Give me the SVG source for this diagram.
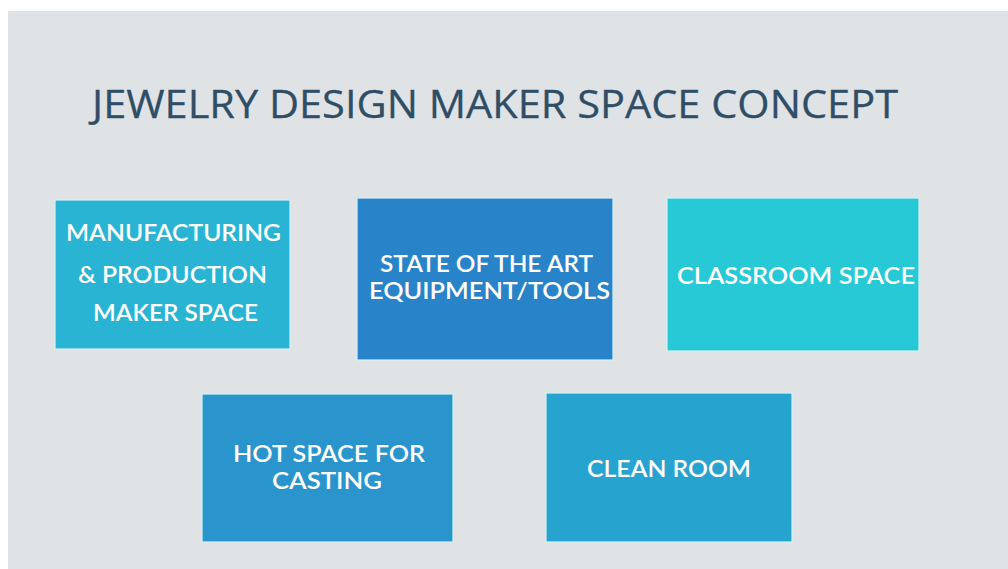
<svg xmlns="http://www.w3.org/2000/svg" width="1008" height="569" viewBox="0 0 1008 569">
<style>
.bg{fill:#dfe3e6}
.box{stroke:#d6f1f6;stroke-width:1.2}
.lbl{font-family:Lato,"Noto Sans",sans-serif;font-weight:600;font-size:23px;fill:#ffffff;text-anchor:middle}
.title{font-family:"Open Sans","Noto Sans",sans-serif;font-size:39px;fill:#2f4e66;stroke:#2f4e66;stroke-width:0.3}
</style>
<rect x="0" y="0" width="1008" height="569" fill="#ffffff"/>
<rect class="bg" x="8" y="11" width="1000" height="558"/>
<text class="title" x="92" y="118" textLength="806" lengthAdjust="spacingAndGlyphs">JEWELRY DESIGN MAKER SPACE CONCEPT</text>
<g id="node-manufacturing">
<rect class="box" x="55" y="200" width="235" height="149" fill="#2ab4d4"/>
<text class="lbl" x="173.5" y="241" textLength="215" lengthAdjust="spacingAndGlyphs">MANUFACTURING</text>
<text class="lbl" x="172.5" y="283" textLength="189" lengthAdjust="spacingAndGlyphs">&amp; PRODUCTION</text>
<text class="lbl" x="175.5" y="321" textLength="165" lengthAdjust="spacingAndGlyphs">MAKER SPACE</text>
</g>
<g id="node-equipment">
<rect class="box" x="357" y="198" width="256" height="162" fill="#2983c8"/>
<text class="lbl" x="486.5" y="272" textLength="213" lengthAdjust="spacingAndGlyphs">STATE OF THE ART</text>
<text class="lbl" x="489.5" y="299" textLength="241" lengthAdjust="spacingAndGlyphs">EQUIPMENT/TOOLS</text>
</g>
<g id="node-classroom">
<rect class="box" x="667" y="198" width="252" height="153" fill="#27c9d6"/>
<text class="lbl" x="796" y="284" textLength="238" lengthAdjust="spacingAndGlyphs">CLASSROOM SPACE</text>
</g>
<g id="node-hot">
<rect class="box" x="202" y="394" width="251" height="148" fill="#2a94cc"/>
<text class="lbl" x="329" y="462" textLength="192" lengthAdjust="spacingAndGlyphs">HOT SPACE FOR</text>
<text class="lbl" x="327" y="489" textLength="110" lengthAdjust="spacingAndGlyphs">CASTING</text>
</g>
<g id="node-clean">
<rect class="box" x="546" y="393" width="246" height="149" fill="#27a3d0"/>
<text class="lbl" x="669" y="477" textLength="164" lengthAdjust="spacingAndGlyphs">CLEAN ROOM</text>
</g>
<g id="connectors"></g>
</svg>
